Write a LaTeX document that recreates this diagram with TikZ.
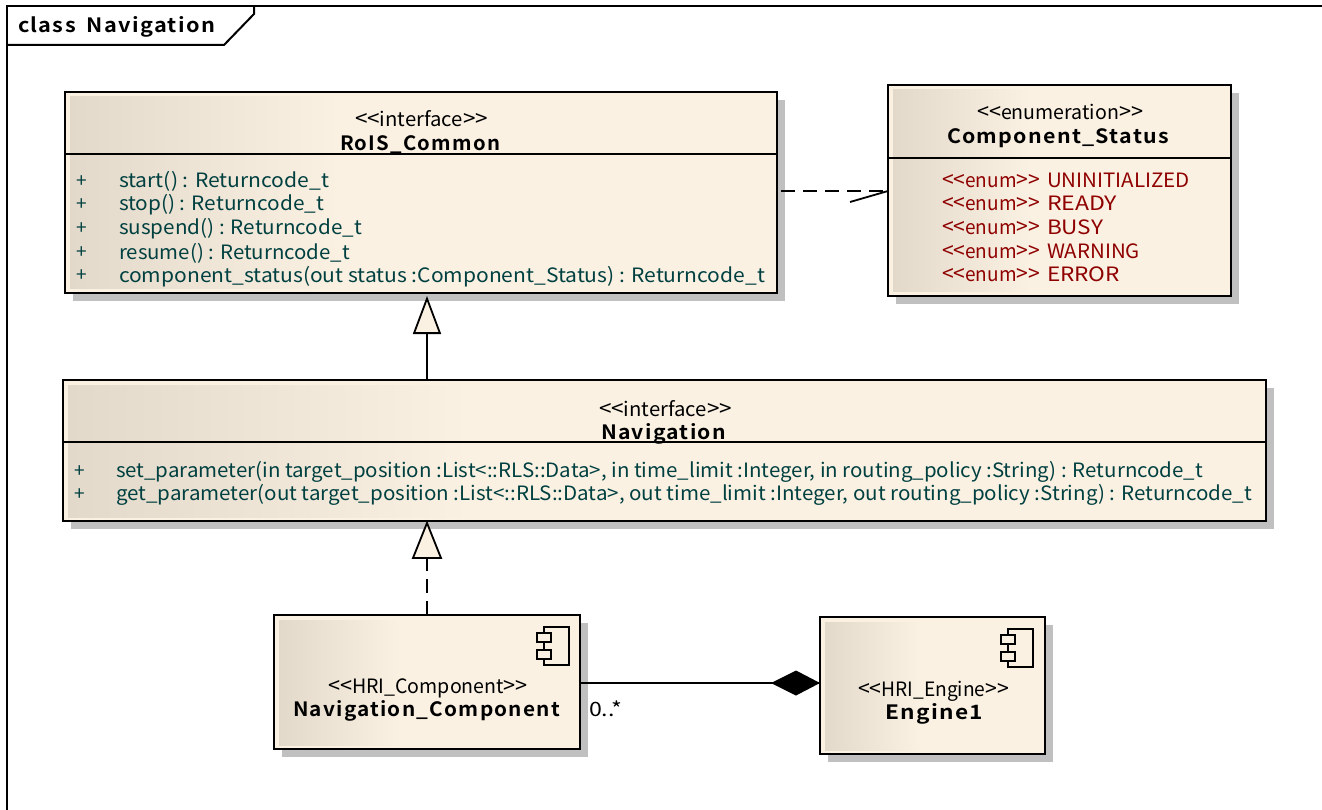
\documentclass[tikz,border=0pt]{standalone}
\usepackage{fontspec}
\usepackage{graphicx}
\usetikzlibrary{arrows.meta,calc}
\setmainfont{Noto Sans CJK JP}
\newfontfamily\boldspaced[LetterSpace=6,WordSpace=1.8]{Noto Sans CJK JP Bold}
\definecolor{gradL}{HTML}{E2D9CA}
\definecolor{gradR}{HTML}{FAF1E3}
\definecolor{shadowgray}{HTML}{C0C0C0}
\definecolor{opteal}{HTML}{004040}
\definecolor{enumred}{HTML}{8F0000}
\tikzset{
  umlbox/.style={draw=black,line width=2pt,rectangle,inner sep=0pt,outer sep=0pt,anchor=north west},
  sepline/.style={line width=1.8pt},
  rel/.style={line width=1.8pt},
  dashrel/.style={line width=1.8pt,dash pattern=on 14pt off 8pt},
  icon/.style={line width=1.5pt,fill=gradR},
  lab/.style={anchor=base west,inner sep=0pt,outer sep=0pt,font=\fontsize{19}{19}\selectfont},
  blab/.style={lab,font=\fontsize{19}{19}\boldspaced},
}
\newcommand{\ltt}{{\fontsize{21}{21}\selectfont <{}<}}
\newcommand{\gtt}{{\fontsize{21}{21}\selectfont >{}>}}
% name, x1, x2, baseline, style, text: a text fitted to the span x1..x2
\newcommand{\tx}[6]{\node[#5] (#1) at (#2,#4+1) {\resizebox{\dimexpr#3pt-#2pt\relax}{1.04\height}{#6}};}
% name, x1, y1, x2, y2, gradient end x
\newcommand{\umlrect}[6]{%
  \fill[shadowgray] (#2+8,#3+8) rectangle (#4+8,#5+8);
  \fill[gradR] (#2,#3) rectangle (#4,#5);
  \shade[left color=gradL,right color=gradR,shading angle=90] (#2+5,#3+5) rectangle (#6,#5-4);
  \path let \p1=(#2,#3), \p2=(#4,#5), \n1={\x2-\x1}, \n2={abs(\y2-\y1)} in
    node[umlbox,minimum width=\n1,minimum height=\n2] (#1) at (#2,#3) {};
}
\newcommand{\compicon}[2]{% x of body left, top y
  \draw[icon] (#1,#2) rectangle (#1+25,#2+38);
  \draw[icon] (#1-7,#2+6) rectangle (#1+7,#2+15);
  \draw[icon] (#1-7,#2+23) rectangle (#1+7,#2+32);
}
\begin{document}
\begin{tikzpicture}[x=1pt,y=-1pt]
\useasboundingbox (0,0) rectangle (1322,810);
\clip (0,0) rectangle (1322,810);
\fill[white] (0,0) rectangle (1322,810);
% frame
\draw[line width=2pt] (7,810) -- (7,6) -- (1322,6);
\draw[line width=2pt] (7,45) -- (224,45) -- (254,14) -- (254,6);
\tx{frametitle}{18}{215}{32}{blab}{class Navigation}

% boxes
\umlrect{rois}{65}{92}{777}{293}{340}
\draw[sepline] (65,154) -- (777,154);
\umlrect{cstatus}{888}{85}{1231}{296}{1030}
\draw[sepline] (888,158) -- (1231,158);
\umlrect{nav}{63}{380}{1266}{521}{470}
\draw[sepline] (63,442) -- (1266,442);
\umlrect{navc}{274}{615}{580}{749}{400}
\umlrect{eng}{820}{617}{1045}{754}{920}
\compicon{544}{627}
\compicon{1008}{629}

% RoIS_Common
\tx{t1}{355}{488}{126}{lab}{\ltt interface\gtt}
\tx{t2}{340}{500}{150}{blab}{RoIS\_Common}
\foreach \yy in {187,210,234,258,281}{\node[lab,text=opteal] (plus\yy) at (76,\yy+1) {+};}
\tx{m1}{119}{329}{187}{lab,text=opteal}{start() : Returncode\_t}
\tx{m2}{119}{324}{210}{lab,text=opteal}{stop() : Returncode\_t}
\tx{m3}{119}{362}{234}{lab,text=opteal}{suspend() : Returncode\_t}
\tx{m4}{119}{350}{258}{lab,text=opteal}{resume() : Returncode\_t}
\tx{m5}{119}{765}{281}{lab,text=opteal}{component\_status(out status :Component\_Status) : Returncode\_t}

% Component_Status
\tx{c1}{977}{1143}{119}{lab}{\ltt enumeration\gtt}
\tx{c2}{947}{1169}{143}{blab}{Component\_Status}
\foreach \yy/\xe/\vv [count=\i] in {187/1190/UNINITIALIZED,210/1117/READY,234/1103/BUSY,258/1140/WARNING,281/1120/ERROR}{
  \tx{e\i}{942}{1040}{\yy}{lab,text=enumred}{\ltt enum\gtt}
  \tx{v\i}{1047}{\xe}{\yy}{lab,text=enumred}{\vv}
}

% Navigation
\tx{n1}{599}{732}{415}{lab}{\ltt interface\gtt}
\tx{n2}{601}{726}{438}{blab}{Navigation}
\node[lab,text=opteal] (plusa) at (74,477) {+};
\node[lab,text=opteal] (plusb) at (74,500) {+};
\tx{n3}{116}{1203}{476}{lab,text=opteal}{set\_parameter(in target\_position :List<::RLS::Data>, in time\_limit :Integer, in routing\_policy :String) : Returncode\_t}
\tx{n4}{116}{1252}{499}{lab,text=opteal}{get\_parameter(out target\_position :List<::RLS::Data>, out time\_limit :Integer, out routing\_policy :String) : Returncode\_t}

% components
\tx{k1}{328}{528}{692}{lab}{\ltt HRI\_Component\gtt}
\tx{k2}{293}{560}{715}{blab}{Navigation\_Component}
\tx{g1}{858}{1009}{695}{lab}{\ltt HRI\_Engine\gtt}
\tx{g2}{885}{983}{718}{blab}{Engine1}

% connectors
\coordinate (vx) at (427,0);
\coordinate (hdep) at (0,191);
\coordinate (hcomp) at (0,683);
\draw[rel,-{Triangle[open,fill=gradR,length=38pt,width=28pt]},shorten >=3pt] (nav.north -| vx) -- (rois.south -| vx);
\draw[dashrel] (navc.north -| vx) -- ($(nav.south -| vx)+(0,37)$);
\draw[rel,fill=gradR,line join=miter] ($(nav.south -| vx)+(0,2)$) -- ($(nav.south -| vx)+(14,37)$) -- ($(nav.south -| vx)+(-14,37)$) -- cycle;
\draw[dashrel] ($(rois.east |- hdep)+(4,0)$) -- (cstatus.west |- hdep);
\draw[rel] (cstatus.west |- hdep) -- +(-38,11);
\draw[rel] ($(navc.east |- hcomp)+(1,0)$) -- (eng.west |- hcomp);
\fill[black] (eng.west |- hcomp) -- +(-24,-12.5) -- +(-49,0) -- +(-24,12.5) -- cycle;
\tx{mult}{589}{622}{715}{lab}{0..*}
\end{tikzpicture}
\end{document}
